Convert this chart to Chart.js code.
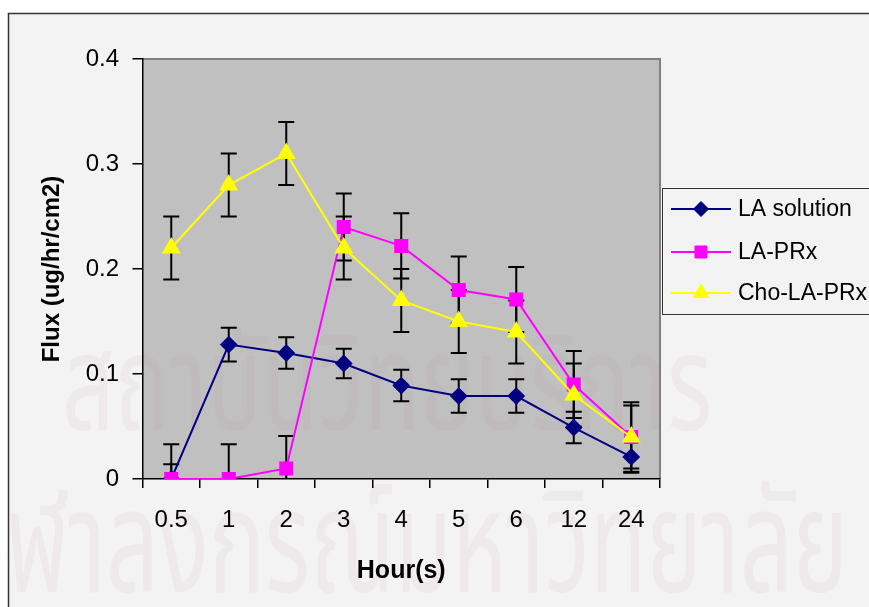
<!DOCTYPE html>
<html>
<head>
<meta charset="utf-8">
<title>Flux vs time</title>
<script src="https://cdn.jsdelivr.net/npm/chart.js@4/dist/chart.umd.min.js"></script>
<style>
  html, body { margin: 0; padding: 0; background: #ffffff; }
  #wrap { position: relative; width: 869px; height: 607px; }
</style>
</head>
<body>
<div id="wrap"><canvas id="c" width="869" height="607"></canvas></div>
<script>
// Sampling times (x categories)
const hours = ['0.5', '1', '2', '3', '4', '5', '6', '12', '24'];

// Flux, ug/hr/cm2
const laSolution    = [0, 0.128, 0.12, 0.11, 0.089, 0.079, 0.079, 0.049, 0.021];
const laSolutionErr = [0.014, 0.016, 0.015, 0.014, 0.015, 0.016, 0.016, 0.015, 0.015];

const laPrx    = [0, 0, 0.01, 0.24, 0.222, 0.18, 0.171, 0.09, 0.04];
const laPrxErr = [0.033, 0.033, 0.031, 0.032, 0.031, 0.032, 0.031, 0.032, 0.033];

const choLaPrx    = [0.22, 0.28, 0.31, 0.22, 0.17, 0.15, 0.14, 0.08, 0.04];
const choLaPrxErr = [0.03, 0.03, 0.03, 0.03, 0.03, 0.03, 0.03, 0.03, 0.03];

const yTickLabels = ['0', '0.1', '0.2', '0.3', '0.4'];

const seriesNames = ['LA solution', 'LA-PRx', 'Cho-LA-PRx'];

const FONT = "'Liberation Sans', Arial, sans-serif";
const THAI_FONT = "'Noto Sans Thai', 'Loma', 'Garuda', 'Tlwg Typo', sans-serif";

// Page background, outer frame, plot area fill and watermark
const backdrop = {
  id: 'backdrop',
  beforeDraw(chart) {
    const ctx = chart.ctx;
    const a = chart.chartArea;
    ctx.save();
    ctx.fillStyle = '#ffffff';
    ctx.fillRect(0, 0, chart.width, chart.height);
    ctx.fillStyle = '#f3f3f3';
    ctx.fillRect(8.5, 13.5, chart.width, chart.height);
    ctx.strokeStyle = '#333333';
    ctx.lineWidth = 1.5;
    ctx.beginPath();
    ctx.moveTo(8.5, chart.height + 2);
    ctx.lineTo(8.5, 13.5);
    ctx.lineTo(chart.width + 2, 13.5);
    ctx.stroke();

    ctx.fillStyle = '#c0c0c0';
    ctx.fillRect(a.left, a.top, a.right - a.left, a.bottom - a.top);
    ctx.strokeStyle = '#808080';
    ctx.lineWidth = 2;
    ctx.beginPath();
    ctx.moveTo(a.left, a.top);
    ctx.lineTo(a.right, a.top);
    ctx.lineTo(a.right, a.bottom);
    ctx.stroke();

    // faint institutional watermark text
    ctx.fillStyle = 'rgba(185, 130, 155, 0.085)';
    ctx.textBaseline = 'alphabetic';
    ctx.textAlign = 'left';
    ctx.font = '150px ' + THAI_FONT;
    // first line
    let w = ctx.measureText('สถาบันวิทยบริการ').width;
    ctx.save();
    ctx.translate(62, 430);
    ctx.scale(650 / w, 0.9);
    ctx.fillText('สถาบันวิทยบริการ', 0, 0);
    ctx.restore();
    // second line, its first syllable runs off the left edge
    const lead = ctx.measureText('จุ').width;
    w = ctx.measureText('ฬาลงกรณ์มหาวิทยาลัย').width;
    const sx = 842 / w;
    ctx.save();
    ctx.translate(6 - lead * sx, 592);
    ctx.scale(sx, 0.95);
    ctx.fillText('จุฬาลงกรณ์มหาวิทยาลัย', 0, 0);
    ctx.restore();
    ctx.restore();
  }
};

// Vertical error bars with caps, drawn under the series
const errorBars = {
  id: 'errorBars',
  beforeDatasetsDraw(chart) {
    const ctx = chart.ctx;
    const xs = chart.scales.x, ys = chart.scales.y;
    const a = chart.chartArea;
    ctx.save();
    ctx.beginPath();
    ctx.rect(a.left, a.top - 2, a.right - a.left, a.bottom - a.top + 2);
    ctx.clip();
    ctx.strokeStyle = '#000000';
    ctx.lineWidth = 2;
    chart.data.datasets.forEach(function (ds) {
      ds.data.forEach(function (v, i) {
        const e = ds.errors[i];
        const x = xs.getPixelForValue(i);
        const yt = ys.getPixelForValue(v + e);
        const yb = ys.getPixelForValue(v - e);
        ctx.beginPath();
        ctx.moveTo(x, yt);
        ctx.lineTo(x, yb);
        ctx.moveTo(x - 8, yt);
        ctx.lineTo(x + 8, yt);
        ctx.moveTo(x - 8, yb);
        ctx.lineTo(x + 8, yb);
        ctx.stroke();
      });
    });
    ctx.restore();
  }
};

// Boxed legend at the right of the plot
const boxLegend = {
  id: 'boxLegend',
  afterDraw(chart) {
    const ctx = chart.ctx;
    ctx.save();
    ctx.fillStyle = '#f3f3f3';
    ctx.fillRect(662.5, 188.5, 220, 126);
    ctx.strokeStyle = '#333333';
    ctx.lineWidth = 1;
    ctx.strokeRect(662.5, 188.5, 220, 126);
    const rows = [209, 252, 293];
    chart.data.datasets.forEach(function (ds, i) {
      const y = rows[i];
      ctx.strokeStyle = ds.borderColor;
      ctx.lineWidth = 2;
      ctx.beginPath();
      ctx.moveTo(671, y);
      ctx.lineTo(731, y);
      ctx.stroke();
      ctx.fillStyle = ds.pointBackgroundColor;
      ctx.strokeStyle = ds.pointBorderColor;
      ctx.lineWidth = 1;
      Chart.helpers.drawPoint(ctx, { pointStyle: ds.pointStyle, radius: ds.pointRadius, borderWidth: 1 }, 701, y);
      ctx.fillStyle = '#000000';
      ctx.font = '23px ' + FONT;
      ctx.textAlign = 'left';
      ctx.textBaseline = 'middle';
      ctx.fillText(ds.label, 738, y + 1);
    });
    ctx.restore();
  }
};

new Chart(document.getElementById('c'), {
  type: 'line',
  data: {
    labels: hours,
    datasets: [
      {
        label: seriesNames[0], data: laSolution, errors: laSolutionErr,
        borderColor: '#000080', backgroundColor: '#000080',
        pointBackgroundColor: '#000080', pointBorderColor: '#000080',
        pointStyle: 'rectRot', pointRadius: 7.5, borderWidth: 2, order: 3
      },
      {
        label: seriesNames[1], data: laPrx, errors: laPrxErr,
        borderColor: '#ff00ff', backgroundColor: '#ff00ff',
        pointBackgroundColor: '#ff00ff', pointBorderColor: '#ff00ff',
        pointStyle: 'rect', pointRadius: 8.5, borderWidth: 2, order: 2
      },
      {
        label: seriesNames[2], data: choLaPrx, errors: choLaPrxErr,
        borderColor: '#ffff00', backgroundColor: '#ffff00',
        pointBackgroundColor: '#ffff00', pointBorderColor: '#ffff00',
        pointStyle: 'triangle', pointRadius: 9, borderWidth: 2, order: 1
      }
    ]
  },
  options: {
    responsive: false,
    animation: false,
    devicePixelRatio: 1,
    layout: { padding: { left: 8, top: 59, right: 209, bottom: 0 } },
    plugins: { legend: { display: false }, tooltip: { enabled: false } },
    elements: { line: { tension: 0 }, point: { hoverRadius: 8 } },
    scales: {
      x: {
        type: 'category',
        offset: true,
        afterFit(s) { s.height = 128; },
        grid: { offset: true, drawOnChartArea: false, tickLength: 9, color: '#000000', lineWidth: 1.5 },
        border: { color: '#000000', width: 1.5 },
        ticks: { color: '#000000', font: { family: FONT, size: 24 }, padding: 18, maxRotation: 0, autoSkip: false },
        title: { display: true, text: 'Hour(s)', color: '#000000', font: { family: FONT, size: 25, weight: 'bold' }, padding: { top: 0, bottom: 21 } }
      },
      y: {
        min: 0, max: 0.4,
        afterFit(s) { s.width = 134.5; },
        grid: { drawOnChartArea: false, tickLength: 10, color: '#000000', lineWidth: 1.5 },
        border: { color: '#000000', width: 1.5 },
        ticks: {
          stepSize: 0.1, color: '#000000', padding: 13.5,
          font: { family: FONT, size: 24 },
          callback: function (v, i) { return yTickLabels[i]; }
        },
        title: { display: true, text: 'Flux (ug/hr/cm2)', color: '#000000', font: { family: FONT, size: 24, weight: 'bold' }, padding: { top: 30, bottom: 0 } }
      }
    }
  },
  plugins: [backdrop, errorBars, boxLegend]
});
</script>
</body>
</html>
